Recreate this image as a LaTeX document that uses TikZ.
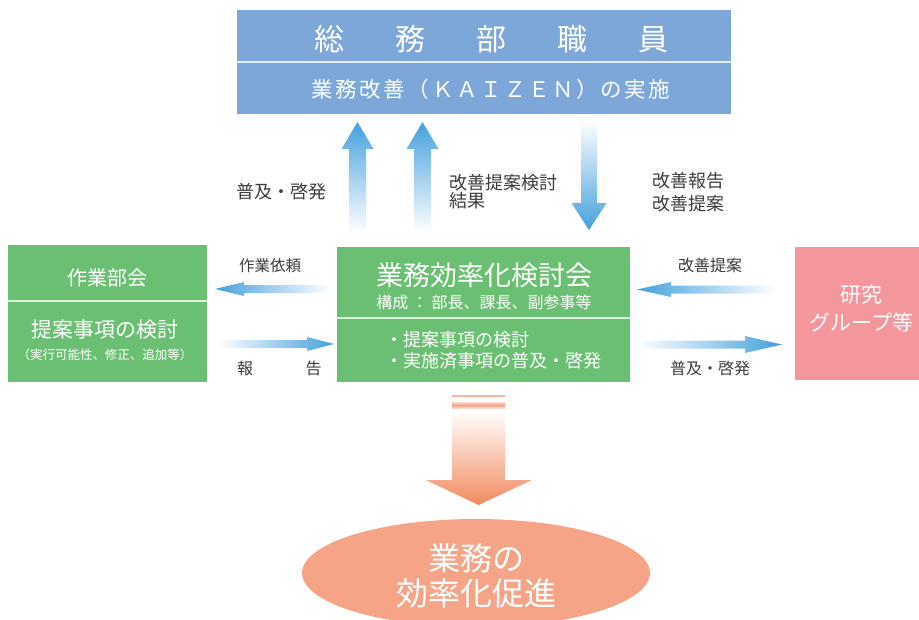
\documentclass[tikz,border=0pt]{standalone}
\usepackage{fontspec}
\setmainfont{Noto Sans CJK JP}
\newfontfamily\spacedjp[LetterSpace=12]{Noto Sans CJK JP}
\usetikzlibrary{shapes.geometric}
\definecolor{topblue}{HTML}{7DA7D9}
\definecolor{boxgreen}{HTML}{6BBF72}
\definecolor{boxpink}{HTML}{F4979D}
\definecolor{arrblue}{HTML}{45A0DD}
\definecolor{salmon}{HTML}{F6A487}
\definecolor{orangetip}{HTML}{F28A60}
\definecolor{labelgray}{HTML}{3C3C3C}
\begin{document}
\begin{tikzpicture}[x=1pt,y=-1pt,
  box/.style={inner sep=0pt, outer sep=0pt, anchor=north west},
  wtxt/.style={text=white, inner sep=0pt},
  lbl/.style={text=labelgray, inner sep=0pt},
  divider/.style={draw=white!80!topblue, line width=1.4pt},
  fs/.style={font=\fontsize{#1}{#1}\selectfont}]
\useasboundingbox (0,0) rectangle (919,619);

% boxes
\node[box, fill=topblue, minimum width=494pt, minimum height=104pt] (staff) at (237,10) {};
\node[box, fill=boxgreen, minimum width=199pt, minimum height=137pt] (bukai) at (8,245) {};
\node[box, fill=boxgreen, minimum width=293pt, minimum height=135pt] (kentou) at (337,247) {};
\node[box, fill=boxpink, minimum width=124pt, minimum height=133pt] (kenkyu) at (795,247) {};

% dividers
\draw[divider] (237,62) -- (731,62);
\draw[divider, draw=white!75!boxgreen] (8,301) -- (207,301);
\draw[divider, draw=white!75!boxgreen] (337,318) -- (630,318);

% texts in boxes
\node[wtxt, fs=30] (stafft) at (491,39) {総\hspace{51pt}務\hspace{51pt}部\hspace{51pt}職\hspace{51pt}員};
\node[wtxt, font=\spacedjp\fontsize{21.5}{21.5}\selectfont] (kaizen) at (491,89) {業務改善（ＫＡＩＺＥＮ）の実施};

\node[wtxt, fs=20] (bukait) at (107.5,278) {作業部会};
\node[wtxt, fs=21] (bukai2) at (105,330) {提案事項の検討};
\node[wtxt, fs=12.5] (bukai3) at (105,355) {（実行可能性、修正、追加等）};

\node[wtxt, fs=27] (kentout) at (484,275) {業務効率化検討会};
\node[wtxt, fs=16] (kousei) at (484,302) {構成 ： 部長、課長、副参事等};
\node[wtxt, fs=18, anchor=west] (b1) at (385,340) {・提案事項の検討};
\node[wtxt, fs=18, anchor=west] (b2) at (385,361) {・実施済事項の普及・啓発};

\node[wtxt, fs=21] (kenkyu1) at (861.5,295) {研究};
\node[wtxt, fs=21] (kenkyu2) at (861.5,322) {グループ等};

% vertical arrows
\shade[top color=arrblue, bottom color=white] (349,232) -- (349,149) -- (341.5,149) -- (357.5,122) -- (373.5,149) -- (366,149) -- (366,232) -- cycle;
\shade[top color=arrblue, bottom color=white] (414,232) -- (414,149) -- (406.5,149) -- (422.5,122) -- (438.5,149) -- (431,149) -- (431,232) -- cycle;
\shade[top color=white, bottom color=arrblue] (581,120) -- (581,203) -- (571.5,203) -- (589,230) -- (606.5,203) -- (597,203) -- (597,120) -- cycle;

% horizontal arrows
\shade[left color=arrblue, right color=white] (330,285) -- (244,285) -- (244,282) -- (215,289) -- (244,296) -- (244,293) -- (330,293) -- cycle;
\shade[left color=white, right color=arrblue] (217,340) -- (307,340) -- (307,337) -- (334,344) -- (307,351) -- (307,348) -- (217,348) -- cycle;
\shade[left color=arrblue, right color=white] (775,285.5) -- (671,285.5) -- (671,282) -- (637,289.5) -- (671,297) -- (671,293.5) -- (775,293.5) -- cycle;
\shade[left color=white, right color=arrblue] (638,340.5) -- (745,340.5) -- (745,336) -- (782,344.5) -- (745,353) -- (745,348.5) -- (638,348.5) -- cycle;

% arrow labels
\node[lbl, fs=18] (l1) at (281.5,192) {普及・啓発};
\node[lbl, anchor=west, align=left, font=\fontsize{18}{18.5}\selectfont] (l2) at (449,191.5) {改善提案検討\\結果};
\node[lbl, anchor=west, align=left, font=\fontsize{18}{23}\selectfont] (l3) at (652,192) {改善報告\\改善提案};
\node[lbl, fs=15.5] (l4) at (270,266) {作業依頼};
\node[lbl, fs=16] (l5a) at (245,368) {報};
\node[lbl, fs=16] (l5b) at (313.5,368) {告};
\node[lbl, fs=16] (l6) at (710,265) {改善提案};
\node[lbl, fs=16] (l7) at (710,368) {普及・啓発};

% bottom arrow
\fill[salmon!80!white] (452,394.5) rectangle (505,396.5);
\shade[top color=salmon!40!white, bottom color=salmon!40!white, middle color=salmon] (452,402) rectangle (505,408);
\shade[top color=white, bottom color=orangetip] (452,410) -- (452,480) -- (426,480) -- (478.5,505) -- (532,480) -- (505,480) -- (505,410) -- cycle;

% goal ellipse
\node[ellipse, fill=salmon, minimum width=348pt, minimum height=108pt, inner sep=0pt] (goal) at (476,573) {};
\node[wtxt, fs=32] (goal1) at (476,558) {業務の};
\node[wtxt, fs=32] (goal2) at (476,593) {効率化促進};
\end{tikzpicture}
\end{document}
